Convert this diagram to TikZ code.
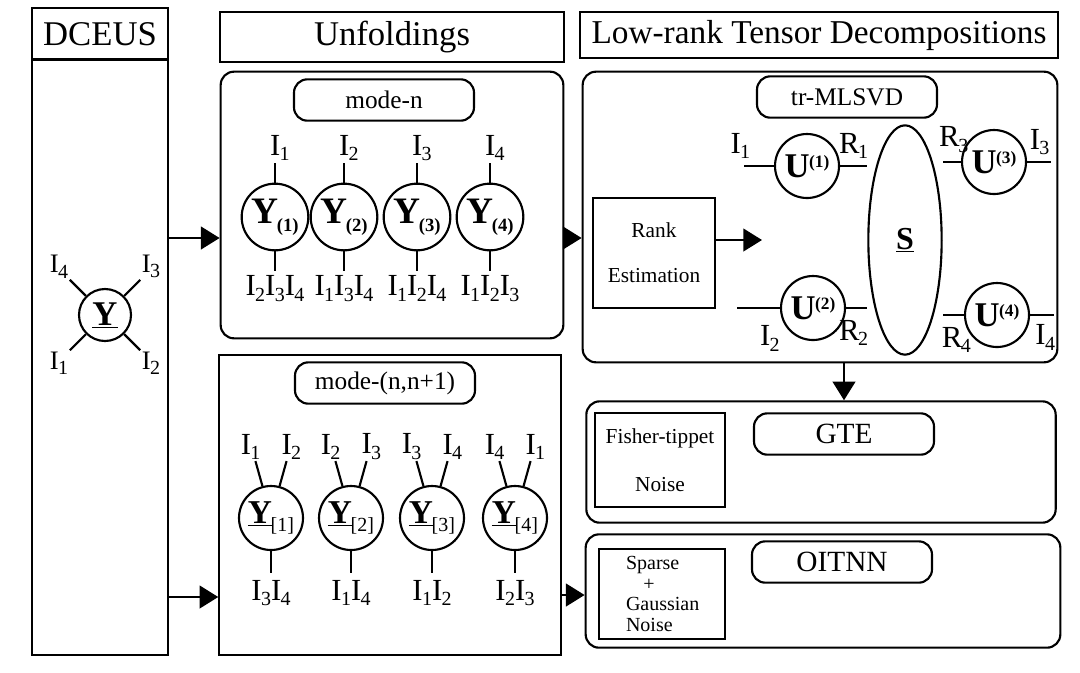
\documentclass[tikz,border=0pt]{standalone}
\usepackage{fontspec}
\setmainfont{Liberation Serif}
\usetikzlibrary{arrows.meta,shapes.geometric}
\tikzset{every picture/.style={line width=1.6pt}}
\tikzset{
  box/.style={draw,rectangle,inner sep=0pt},
  rbox/.style={draw,rectangle,rounded corners=10pt,inner sep=0pt},
  ten/.style={draw,circle,inner sep=0pt,minimum size=50pt},
  lbl/.style={inner sep=0.5pt,font=\fontsize{23}{23}\selectfont},
  bigarrow/.style={-{Triangle[length=14pt,width=17pt]}},
}
\newcommand{\Ix}[1]{I\kern-0.5pt\raisebox{-4pt}{\fontsize{15}{15}\selectfont#1}}
\newcommand{\Rx}[1]{R\kern-1pt\raisebox{-4pt}{\fontsize{15}{15}\selectfont#1}}
\newcommand{\Yn}[1]{\textbf{Y}\kern-1pt\raisebox{-6pt}{\bfseries\fontsize{14}{14}\selectfont(#1)}}
\newcommand{\Yb}[1]{\underline{\textbf{Y}}\kern-1pt\raisebox{-6pt}{\fontsize{15}{15}\selectfont[#1]}}
\newcommand{\Un}[1]{\textbf{U}\kern-0.5pt\raisebox{7pt}{\bfseries\fontsize{13}{13}\selectfont(#1)}}
\begin{document}
\begin{tikzpicture}[x=0.75pt,y=0.75pt,yscale=-1,xscale=1]
\useasboundingbox (0,0) rectangle (1080,672);

% Headers
\node[box,minimum width=102pt,minimum height=39pt,font=\fontsize{26}{26}\selectfont] (hd) at (100,34) {DCEUS};
\node[box,minimum width=258pt,minimum height=38pt,font=\fontsize{26}{26}\selectfont] (hu) at (392,37) {Unfoldings};
\node[box,minimum width=358pt,minimum height=35pt,font=\fontsize{25}{25}\selectfont] (hl) at (819,35) {Low-rank Tensor Decompositions};

% DCEUS column
\node[box,minimum width=102pt,minimum height=447pt] (col) at (100,357) {};
\node[ten,minimum size=39pt,font=\fontsize{26}{26}\selectfont\bfseries] (y) at (105,315) {\underline{Y}};
\draw (y.135) -- ++(-16,-16) node[lbl,anchor=south east,font=\fontsize{20}{20}\selectfont] {\Ix{4}};
\draw (y.45) -- ++(16,-16) node[lbl,anchor=south west,font=\fontsize{20}{20}\selectfont] {\Ix{3}};
\draw (y.225) -- ++(-16,16) node[lbl,anchor=north east,font=\fontsize{20}{20}\selectfont] {\Ix{1}};
\draw (y.-45) -- ++(16,16) node[lbl,anchor=north west,font=\fontsize{20}{20}\selectfont] {\Ix{2}};

% mode-n
\node[rbox,minimum width=257pt,minimum height=200pt] (mn) at (392,205) {};
\node[rbox,minimum width=135pt,minimum height=31pt,font=\fontsize{19}{19}\selectfont] (mnl) at (384,100) {mode-n};
\foreach \i/\x/\t/\b in {1/275/1/{\Ix{2}\Ix{3}\Ix{4}},2/344/2/{\Ix{1}\Ix{3}\Ix{4}},3/417/3/{\Ix{1}\Ix{2}\Ix{4}},4/490/4/{\Ix{1}\Ix{2}\Ix{3}}}{
  \node[ten,font=\fontsize{28}{28}\selectfont] (yn\i) at (\x,217) {\Yn{\i}};
  \draw (yn\i.north) -- ++(0,-20) node[lbl,anchor=south west,xshift=-5pt] {\Ix{\t}};
  \draw (yn\i.south) -- ++(0,20) node[lbl,anchor=north,yshift=-2pt] {\b};
}

% mode-(n,n+1)
\node[rbox,rounded corners=0pt,minimum width=256pt,minimum height=225pt] (mb) at (390,505) {};
\node[rbox,minimum width=135pt,minimum height=31pt,font=\fontsize{19}{19}\selectfont] (mbl) at (385,383) {mode-(n,n+1)};
\foreach \i/\x/\a/\c/\b in {1/271/1/2/{\Ix{3}\Ix{4}},2/351/2/3/{\Ix{1}\Ix{4}},3/432/3/4/{\Ix{1}\Ix{2}},4/515/4/1/{\Ix{2}\Ix{3}}}{
  \node[ten,minimum size=48pt,font=\fontsize{25}{25}\selectfont] (yb\i) at (\x,518) {\Yb{\i}};
  \draw (yb\i.105) -- ++(-7,-25) node[lbl,anchor=south east,xshift=5pt] {\Ix{\a}};
  \draw (yb\i.75) -- ++(7,-25) node[lbl,anchor=south west,xshift=-5pt] {\Ix{\c}};
  \draw (yb\i.south) -- ++(0,22) node[lbl,anchor=north,yshift=-4pt] {\b};
}

% tr-MLSVD
\node[rbox,minimum width=356pt,minimum height=218pt] (ml) at (820,217) {};
\node[rbox,minimum width=135pt,minimum height=31pt,font=\fontsize{19}{19}\selectfont] (mll) at (847,97) {tr-MLSVD};
\node[box,minimum width=92pt,minimum height=82pt,align=center,font=\fontsize{16}{26}\selectfont] (re) at (654,253) {Rank\\[8pt]Estimation};
\coordinate (rea) at (762,240);
\draw[bigarrow] (re.east |- rea) -- (rea);
\node[draw,ellipse,minimum width=55pt,minimum height=172pt,inner sep=0pt,font=\fontsize{24}{24}\selectfont\bfseries] (s) at (905,240) {\underline{S}};
\foreach \n/\x/\y in {1/807/166,3/994/162,2/813/308,4/997/315}
  \node[ten,minimum size=48pt,font=\fontsize{26}{26}\selectfont] (u\n) at (\x,\y) {\Un{\n}};
\draw (u1.west) -- ++(-30,0) node[lbl,anchor=south east,yshift=4pt,xshift=6pt] {\Ix{1}};
\draw (u1.east) -- (s.west |- u1.east) node[lbl,anchor=south east,yshift=4pt,xshift=2pt] {\Rx{1}};
\draw (u3.west) -- (s.east |- u3.west) node[lbl,anchor=south west,yshift=6pt,xshift=-4pt] {\Rx{3}};
\draw (u3.east) -- ++(24,0) node[lbl,anchor=south east,yshift=4pt] {\Ix{3}};
\draw (u2.west) -- ++(-43,0) node[lbl,anchor=north west,yshift=-12pt,xshift=16pt] {\Ix{2}};
\draw (u2.east) -- (s.west |- u2.east) node[lbl,anchor=north east,yshift=-8pt,xshift=2pt] {\Rx{2}};
\draw (u4.west) -- (s.east |- u4.west) node[lbl,anchor=north west,yshift=-8pt,xshift=-2pt] {\Rx{4}};
\draw (u4.east) -- ++(24,0) node[lbl,anchor=north east,yshift=-6pt,xshift=2pt] {\Ix{4}};

% GTE
\node[rbox,minimum width=352pt,minimum height=91pt] (gt) at (821,462) {};
\node[box,minimum width=98pt,minimum height=71pt,align=center,font=\fontsize{16}{26}\selectfont] (fn) at (660,460) {Fisher-tippet\\[10pt]Noise};
\node[rbox,minimum width=135pt,minimum height=31pt,font=\fontsize{22}{22}\selectfont] (gtl) at (844,434) {GTE};

% OITNN
\node[rbox,minimum width=356pt,minimum height=85pt] (oi) at (823,591) {};
\node[box,minimum width=94pt,minimum height=68pt,align=left,font=\fontsize{15}{15.5}\selectfont] (sg) at (662,594) {\hspace*{1pt}Sparse\\\hspace*{14pt}+\\\hspace*{1pt}Gaussian\\\hspace*{1pt}Noise};
\node[rbox,minimum width=135pt,minimum height=31pt,font=\fontsize{22}{22}\selectfont] (oil) at (842,562) {OITNN};

% Arrows
\coordinate (a1) at (0,238);
\draw[bigarrow] (col.east |- a1) -- (mn.west |- a1);
\coordinate (a2) at (0,597);
\draw[bigarrow] (col.east |- a2) -- (mb.west |- a2);
\draw[bigarrow] (mn.east |- a1) -- (ml.west |- a1);
\coordinate (a3) at (0,595);
\draw[bigarrow] (mb.east |- a3) -- (oi.west |- a3);
\draw[bigarrow] (ml.south -| gtl.north) -- (gt.north -| gtl.north);
\end{tikzpicture}
\end{document}
